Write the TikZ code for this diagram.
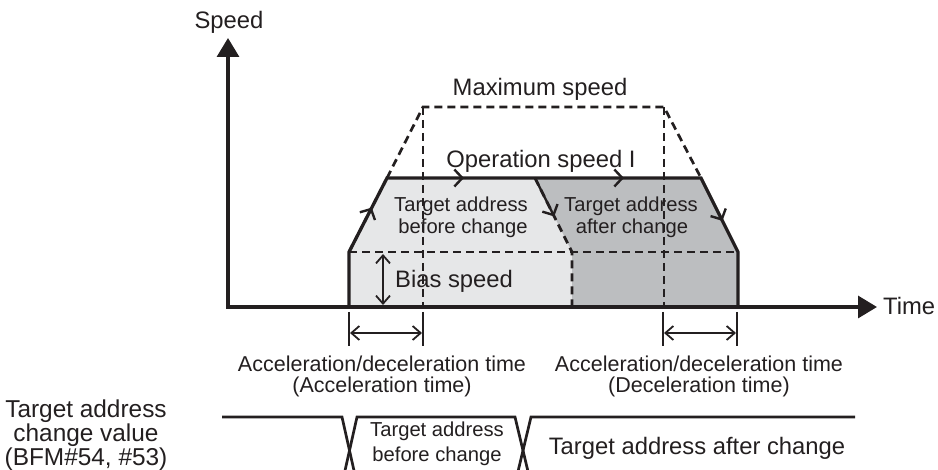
\documentclass[tikz,border=0pt]{standalone}
\usepackage{fontspec}
\setmainfont{Liberation Sans}
\usetikzlibrary{arrows.meta,calc}
\definecolor{lightfill}{RGB}{230,231,232}
\definecolor{darkfill}{RGB}{188,190,192}
\definecolor{ink}{RGB}{35,31,32}
\begin{document}
\begin{tikzpicture}[x=1pt,y=-1pt,
  axisline/.style={line width=3.3pt,draw=ink,-{Triangle[length=19pt,width=22pt]}},
  solidline/.style={line width=3.3pt,draw=ink,line join=miter},
  dashline/.style={line width=2.7pt,draw=ink,dash pattern=on 8pt off 5pt},
  barb/.style={line width=2.4pt,draw=ink,-{Straight Barb[length=8pt,width=17pt]}},
  dimarrow/.style={line width=1.8pt,draw=ink,{Straight Barb[length=8pt,width=14pt]}-{Straight Barb[length=8pt,width=14pt]}},
  tickline/.style={line width=1.8pt,draw=ink},
  timeline/.style={line width=2.7pt,draw=ink},
  bigtxt/.style={font=\fontsize{23.8}{26}\selectfont,text=ink,inner sep=0pt,anchor=base},
  midtxt/.style={font=\fontsize{21.5}{24}\selectfont,text=ink,inner sep=0pt,anchor=base},
  smalltxt/.style={font=\fontsize{20.2}{24}\selectfont,text=ink,inner sep=0pt,anchor=base},
  lbltxt/.style={font=\fontsize{24.4}{26}\selectfont,text=ink,inner sep=0pt,anchor=base}]
\useasboundingbox (0,0) rectangle (938,470);
\clip (0,0) rectangle (938,470);
% key coordinates
\coordinate (O) at (228,307);
\coordinate (ytip) at (228,38);
\coordinate (xtip) at (877,307);
\coordinate (b0) at (349,307);
\coordinate (b1) at (349,252);
\coordinate (o1) at (387,178);
\coordinate (m1) at (423,107);
\coordinate (m1b) at (423,307);
\coordinate (m2) at (664,107);
\coordinate (m2b) at (664,307);
\coordinate (o2) at (701,178);
\coordinate (b2) at (738,252);
\coordinate (b3) at (738,307);
\coordinate (d1) at (535,178);
\coordinate (d2) at (572,252);
\coordinate (d3) at (572,307);
% fills
\fill[lightfill] (b0) -- (b1) -- (o1) -- (d1) -- (d2) -- (d3) -- cycle;
\fill[darkfill] (d1) -- (o2) -- (b2) -- (b3) -- (d3) -- (d2) -- cycle;
% dashed lines
\draw[dashline] (o1) -- (m1) -- (m2) -- (o2);
\draw[dashline] (m1) -- (m1b);
\draw[dashline] (m2) -- (m2b);
\draw[dashline] (b1) -- (b2);
\draw[dashline] (d1) -- (d2) -- (d3);
% solid profile
\draw[solidline] (b0) -- (b1) -- (o1) -- (o2) -- (b2) -- (b3);
% mid-path arrows
\draw[barb] (b1) -- ($(b1)!0.6!(o1)$);
\draw[barb] (o1) -- (464,178);
\draw[barb] (o1) -- (624,178);
\draw[barb] (d1) -- ($(d1)!0.52!(d2)$);
\draw[barb] (o2) -- ($(o2)!0.58!(b2)$);
% bias speed arrow
\coordinate (bs1) at (383,254);
\coordinate (bs2) at (383,305);
\draw[dimarrow] (bs1) -- (bs2);
% axes
\draw[axisline] (226,307) -- (xtip);
\draw[axisline] (O) -- (ytip);
% dimension marks
\coordinate (t1a) at (349,312); \coordinate (t1b) at (349,346);
\coordinate (t2a) at (423,312); \coordinate (t2b) at (423,346);
\coordinate (t3a) at (663,312); \coordinate (t3b) at (663,346);
\coordinate (t4a) at (737,312); \coordinate (t4b) at (737,346);
\draw[tickline] (t1a) -- (t1b);
\draw[tickline] (t2a) -- (t2b);
\draw[tickline] (t3a) -- (t3b);
\draw[tickline] (t4a) -- (t4b);
\draw[dimarrow] (350,333) -- (422,333);
\draw[dimarrow] (664,333) -- (736,333);
% timing chart
\coordinate (L0) at (222,417);
\coordinate (x1a) at (342,417); \coordinate (x1b) at (357,417);
\coordinate (x1c) at (342,484); \coordinate (x1d) at (357,484);
\coordinate (x2a) at (515,417); \coordinate (x2b) at (531,417);
\coordinate (x2c) at (515,484); \coordinate (x2d) at (531,484);
\coordinate (L3) at (855,417);
\draw[timeline] (L0) -- (x1a) -- (x1d);
\draw[timeline] (x1c) -- (x1b) -- (x2a) -- (x2d);
\draw[timeline] (x2c) -- (x2b) -- (L3);
% texts
\node[bigtxt] (speed) at (229,29) {Speed};
\node[bigtxt,anchor=base west] (time) at (883,315) {Time};
\node[bigtxt] (maxs) at (540,96) {Maximum speed};
\node[bigtxt] (ops) at (541,168) {Operation speed I};
\node[smalltxt] (tb1) at (461,212) {Target address};
\node[smalltxt] (tb2) at (463,234) {before change};
\node[smalltxt] (ta1) at (631,212) {Target address};
\node[smalltxt] (ta2) at (632,234) {after change};
\node[bigtxt,anchor=base west] (bias) at (395,288) {Bias speed};
\node[midtxt] (acc1) at (382,372) {Acceleration/deceleration time};
\node[midtxt] (acc2) at (382,393) {(Acceleration time)};
\node[midtxt] (dec1) at (699,372) {Acceleration/deceleration time};
\node[midtxt] (dec2) at (699,393) {(Deceleration time)};
\node[lbltxt] (lab1) at (86,418) {Target address};
\node[lbltxt] (lab2) at (86,442) {change value};
\node[lbltxt] (lab3) at (86,465) {(BFM\#54, \#53)};
\node[smalltxt] (xb1) at (437,437) {Target address};
\node[smalltxt] (xb2) at (437,462) {before change};
\node[bigtxt] (xa) at (697,455) {Target address after change};
\end{tikzpicture}
\end{document}
